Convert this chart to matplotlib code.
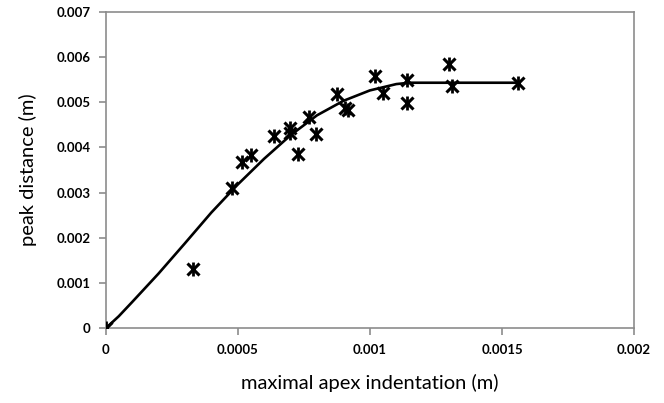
import matplotlib.pyplot as plt

indent = [0.0, 0.00033, 0.000477, 0.000517, 0.00055, 0.000636, 0.000698, 0.000698,
          0.00073, 0.000771, 0.000797, 0.000877, 0.000906, 0.000916, 0.00102, 0.00105,
          0.00114, 0.00114, 0.0013, 0.00131, 0.00156]
peak = [0.0, 0.00131, 0.0031, 0.00367, 0.00383, 0.00426, 0.00442, 0.00432,
        0.00386, 0.00468, 0.00429, 0.00518, 0.00487, 0.00483, 0.00558, 0.0052,
        0.00549, 0.00498, 0.00584, 0.00536, 0.00542]

# fitted curve
curve_x = [0.0, 0.00005, 0.0001, 0.0002, 0.0003, 0.0004, 0.0005, 0.0006, 0.0007,
           0.0008, 0.0009, 0.001, 0.0011, 0.00115, 0.0013, 0.00156]
curve_y = [0.0, 0.00027, 0.00058, 0.00121, 0.00188, 0.00256, 0.00318, 0.00375, 0.00427,
           0.00471, 0.00503, 0.00526, 0.0054, 0.00543, 0.00543, 0.00543]

xticks = [0, 0.0005, 0.001, 0.0015, 0.002]
xticklabels = ['0', '0.0005', '0.001', '0.0015', '0.002']
yticks = [0, 0.001, 0.002, 0.003, 0.004, 0.005, 0.006, 0.007]
yticklabels = ['0', '0.001', '0.002', '0.003', '0.004', '0.005', '0.006', '0.007']

plt.rcParams['font.family'] = ['Lato', 'DejaVu Sans']

fig = plt.figure(figsize=(6.64, 4.03), dpi=100)
ax = fig.add_axes([0.159, 0.185, 0.796, 0.786])

ax.plot(curve_x, curve_y, color='black', linewidth=1.9, zorder=2)
# excel style star marker = x plus a vertical bar
ax.plot(indent, peak, linestyle='none', marker='x', markersize=9, markeredgewidth=2.2,
        color='black', zorder=3)
ax.plot(indent, peak, linestyle='none', marker='|', markersize=10, markeredgewidth=2.0,
        color='black', zorder=3)

ax.set_xlim(0, 0.002)
ax.set_ylim(0, 0.007)
ax.set_xticks(xticks)
ax.set_xticklabels(xticklabels)
ax.set_yticks(yticks)
ax.set_yticklabels(yticklabels)

for s in ax.spines.values():
    s.set_color('#8c8c8c')
    s.set_linewidth(1.2)
ax.tick_params(direction='out', length=5, width=1.2, color='#8c8c8c',
               labelsize=9.5, pad=6)
for lab in ax.get_xticklabels() + ax.get_yticklabels():
    lab.set_fontweight('bold')

ax.set_xlabel('maximal apex indentation (m)', fontsize=14.5, labelpad=13)
ax.set_ylabel('peak distance (m)', fontsize=14.5, labelpad=14)
ax.patch.set_facecolor('white')

fig.savefig('out.png', dpi=100)
